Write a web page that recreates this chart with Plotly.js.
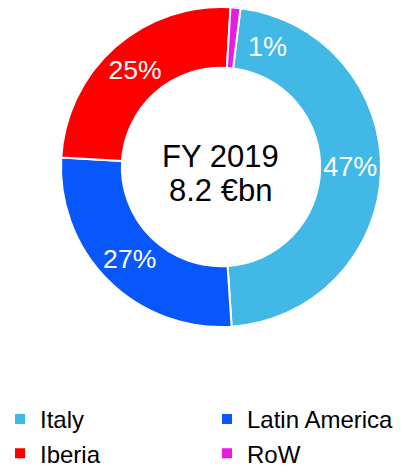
<!DOCTYPE html>
<html>
<head>
<meta charset="utf-8">
<script src="https://cdn.plot.ly/plotly-3.0.1.min.js"></script>
<style>html,body{margin:0;padding:0;background:#fff;}#chart{width:414px;height:476px;}</style>
</head>
<body>
<div id="chart"></div>
<script>
const categories = ["Italy", "Latin America", "Iberia", "RoW"];
const shares = [47, 27, 25, 1];
const colors = ["#41B8E6", "#0757FC", "#FF0000", "#E61CE3"];
const centerLines = ["FY 2019", "8.2 €bn"];

const labels = shares.map(v => v + "%");
const textShown = labels.map((t, i) => shares[i] < 3 ? "" : t);

const rotation = 7;
const smallIdx = shares.findIndex(v => v < 3);
const font = "Arial, Liberation Sans, sans-serif";
const annotations = [
  {x: 0.5335, y: 1 - 156.5/476, xref: "paper", yref: "paper", xanchor: "center", yanchor: "middle",
   text: centerLines[0], showarrow: false, font: {family: font, size: 31, color: "#000"}},
  {x: 0.5335, y: 1 - 190.5/476, xref: "paper", yref: "paper", xanchor: "center", yanchor: "middle",
   text: centerLines[1], showarrow: false, font: {family: font, size: 31, color: "#000"}}
];
if (smallIdx >= 0) {
  const ang = (rotation + 14) * Math.PI / 180;
  const cx = 221, cy = 167, r = 129;
  annotations.push({
    x: (cx + r * Math.sin(ang)) / 414, y: 1 - (cy - r * Math.cos(ang)) / 476,
    xref: "paper", yref: "paper", xanchor: "center", yanchor: "middle",
    text: labels[smallIdx], showarrow: false,
    font: {family: font, size: 27, color: "#fff"}
  });
}

const data = [{
  type: "pie",
  labels: categories,
  values: shares,
  text: textShown,
  textinfo: "text",
  textposition: "inside",
  insidetextorientation: "horizontal",
  hole: 0.62,
  sort: false,
  direction: "clockwise",
  rotation: rotation,
  marker: {colors: colors, line: {color: "#fff", width: 2}},
  textfont: {family: font, size: 27, color: "#fff"},
  domain: {x: [61/414, 381/414], y: [1 - 328/476, 1 - 6/476]},
  hoverinfo: "label+percent"
}];

const layout = {
  width: 414, height: 476,
  margin: {l: 0, r: 0, t: 0, b: 0},
  paper_bgcolor: "#fff",
  showlegend: true,
  legend: {
    orientation: "h", x: 0.01, y: 0.0, xanchor: "left", yanchor: "bottom",
    entrywidth: 0.5, entrywidthmode: "fraction",
    font: {family: font, size: 24, color: "#000"},
    traceorder: "normal"
  },
  annotations: annotations
};

Plotly.newPlot("chart", data, layout, {displayModeBar: false, staticPlot: true});
</script>
</body>
</html>
